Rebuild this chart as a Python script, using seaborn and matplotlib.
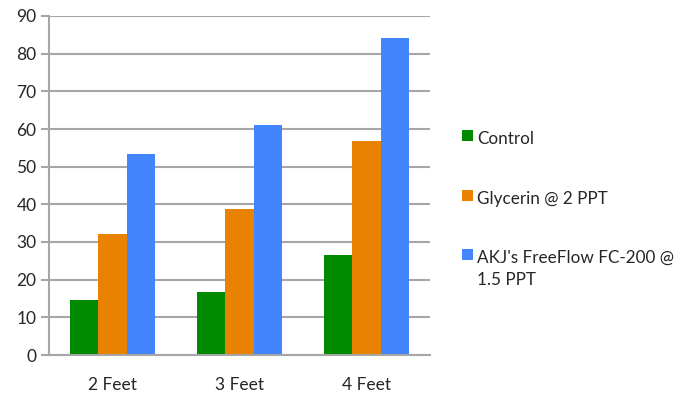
import pandas as pd
import matplotlib
matplotlib.use("Agg")
import matplotlib.pyplot as plt
import seaborn as sns
from matplotlib.patches import Rectangle

categories = ["2 Feet", "3 Feet", "4 Feet"]
series = ["Control", "Glycerin @ 2 PPT", "AKJ's FreeFlow FC-200 @\n1.5 PPT"]
control = [14.5, 16.7, 26.5]
glycerin = [32.0, 38.7, 56.7]
freeflow = [53.4, 61.0, 84.2]
colors = ["#008a00", "#e98200", "#4384ff"]

df = pd.DataFrame({
    "group": categories * 3,
    "series": [series[0]] * 3 + [series[1]] * 3 + [series[2]] * 3,
    "value": control + glycerin + freeflow,
})

sns.set_style("white")
plt.rcParams["font.family"] = ["Lato", "DejaVu Sans"]

W, H = 676, 395
fig = plt.figure(figsize=(W / 100, H / 100), dpi=100)
ax = fig.add_axes([49 / W, 40 / H, 381 / W, 339 / H])

sns.barplot(data=df, x="group", y="value", hue="series", palette=colors,
            width=0.67, saturation=1, linewidth=0, ax=ax, legend=False)

grid_c = "#a6a6a6"
ax.set_ylim(0, 90)
ax.set_xlim(-0.5, 2.5)
ax.set_yticks(range(0, 91, 10))
ax.yaxis.grid(True, color=grid_c, linewidth=1.5)
ax.set_axisbelow(True)
for s in ["top", "right"]:
    ax.spines[s].set_visible(False)
for s in ["left", "bottom"]:
    ax.spines[s].set_color(grid_c)
    ax.spines[s].set_linewidth(1.5)
ax.set_xlabel("")
ax.set_ylabel("")

# x ticks at category boundaries, labels centred
ax.set_xticks([-0.5, 0.5, 1.5, 2.5])
ax.set_xticklabels([])
ax.set_xticks([0, 1, 2], minor=True)
ax.set_xticklabels(categories, minor=True)
ax.tick_params(axis="x", which="major", length=6, width=1.5, color=grid_c, direction="out")
ax.tick_params(axis="x", which="minor", length=0, pad=16, labelsize=12.5)
ax.tick_params(axis="y", length=6, width=1.5, color=grid_c, labelsize=12.5, pad=3)
ax.tick_params(axis="y", which="major", left=True)

# legend drawn by hand so the swatch sits on the first line of a wrapped label
baselines = [144, 204, 263]
for c, lab, yb in zip(colors, series, baselines):
    fig.patches.append(Rectangle((462 / W, 1 - (yb - 3) / H), 11 / W, 11 / H,
                                 transform=fig.transFigure, facecolor=c,
                                 edgecolor="none"))
    first, *rest = lab.split("\n")
    fig.text(477 / W, 1 - yb / H, first, fontsize=12.3, va="baseline", ha="left")
    for i, line in enumerate(rest, 1):
        fig.text(477 / W, 1 - (yb + 22 * i) / H, line, fontsize=12.3,
                 va="baseline", ha="left")

fig.savefig("out.png", dpi=100)
